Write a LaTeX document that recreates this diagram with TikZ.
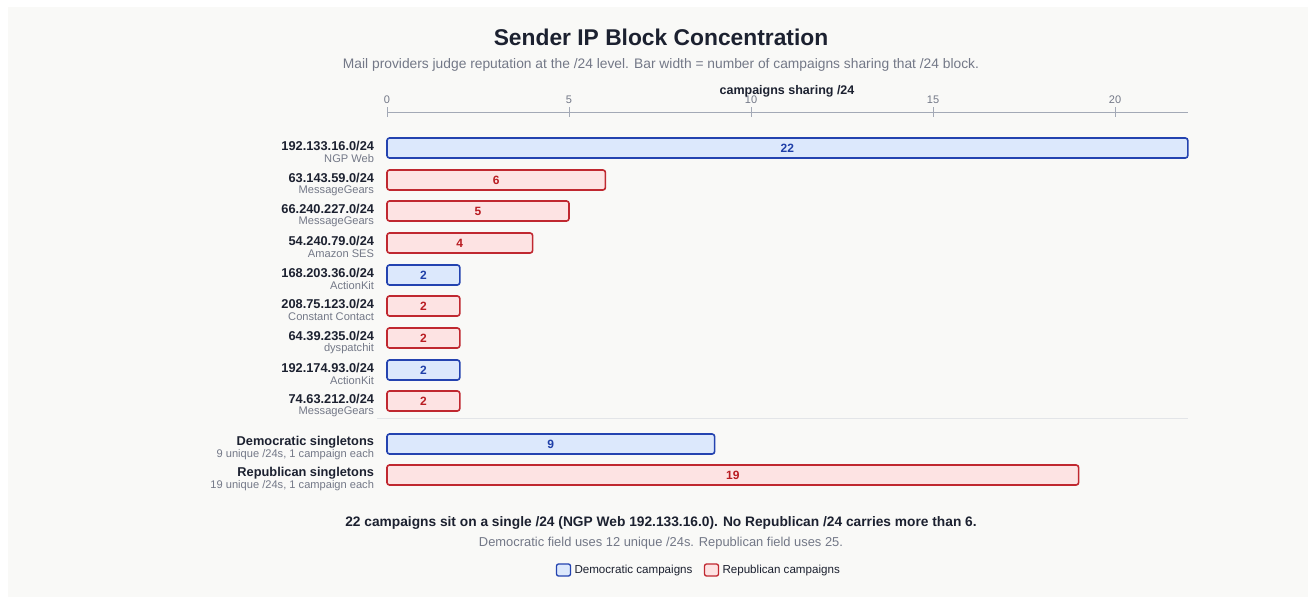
\documentclass[tikz,border=0pt]{standalone}
\usepackage{fontspec}
\setmainfont{Liberation Sans}
\definecolor{panel}{HTML}{F9F9F7}
\definecolor{ink}{HTML}{1C2130}
\definecolor{muted}{HTML}{737887}
\definecolor{axisgray}{HTML}{A3A9B6}
\definecolor{rule}{HTML}{E3E5E8}
\definecolor{demline}{HTML}{2443B0}
\definecolor{demfill}{HTML}{DCE8FC}
\definecolor{demtext}{HTML}{1F3FA8}
\definecolor{repline}{HTML}{C02830}
\definecolor{repfill}{HTML}{FDE3E3}
\definecolor{reptext}{HTML}{B91C22}
\newcommand{\fsz}[1]{\fontsize{#1}{#1}\selectfont}
\tikzset{
    every node/.style={inner sep=0pt, outer sep=0pt},
    bar/.style={rounded corners=2.5pt, line width=1.6pt, minimum height=20pt,
        anchor=west, font=\bfseries\fsz{12}},
    dem bar/.style={bar, draw=demline, fill=demfill, text=demtext},
    rep bar/.style={bar, draw=repline, fill=repfill, text=reptext},
    rowname/.style={anchor=east, text=ink, font=\bfseries\fsz{12.8}},
    rowsub/.style={anchor=east, text=muted, font=\fsz{11.1}},
    tick/.style={text=muted, font=\fsz{11}},
    axis/.style={draw=axisgray, line width=0.9pt},
    key/.style={minimum width=14pt, minimum height=12pt, rounded corners=2pt, line width=1.3pt}
}
\begin{document}
\begin{tikzpicture}[x=1pt,y=-1pt]
    %% canvas
    \useasboundingbox (0,0) rectangle (1308,597);
    \fill[white] (0,0) rectangle (1308,597);
    \fill[panel] (8,7) rectangle (1308,597);
    %% title
    \node[text=ink, font=\bfseries\fsz{22.8}] (title) at (661,37) {Sender IP Block Concentration};
    \node[text=muted, font=\fsz{13.8}] (subtitle) at (661,65)
        {Mail providers judge reputation at the /24 level. Bar width = number of campaigns sharing that /24 block.};
    %% axis
    \coordinate (ax0) at (387,112);
    \coordinate (ax1) at (1188,112);
    \draw[axis] (ax0) -- (ax1);
    \foreach \t in {0,5,10,15,20} {
        \draw[axis] (387+\t*36.4,107) -- +(0,10);
        \node[tick] (t\t) at (387+\t*36.4,100) {\t};
    }
    \node[text=ink, font=\bfseries\fsz{12.5}] (axtitle) at (787,91) {campaigns sharing /24};
    %% shared blocks
    \foreach \y/\ip/\who/\v/\p [count=\i] in {
        148/192.133.16.0/NGP Web/22/dem,
        180/63.143.59.0/MessageGears/6/rep,
        211/66.240.227.0/MessageGears/5/rep,
        243/54.240.79.0/Amazon SES/4/rep,
        275/168.203.36.0/ActionKit/2/dem,
        306/208.75.123.0/Constant Contact/2/rep,
        338/64.39.235.0/dyspatchit/2/rep,
        370/192.174.93.0/ActionKit/2/dem,
        401/74.63.212.0/MessageGears/2/rep} {
        \node[rowname] (name\i) at (374,\y-2) {\ip/24};
        \node[rowsub] (who\i) at (374,\y+10.5) {\who};
        \node[\p\space bar, minimum width=\v*36.4pt] (bar\i) at (387,\y) {\v};
    }
    \coordinate (sep0) at (377,418);
    \coordinate (sep1) at (1188,418);
    \draw[rule, line width=0.8pt] (sep0) -- (sep1);
    %% singletons
    \foreach \y/\what/\n/\p [count=\i] in {
        444/Democratic/9/dem,
        475/Republican/19/rep} {
        \node[rowname] (single\i) at (374,\y-2) {\what\space singletons};
        \node[rowsub] (singlesub\i) at (374,\y+10.5) {\n\space unique /24s, 1 campaign each};
        \node[\p\space bar, minimum width=\n*36.4pt] (singlebar\i) at (387,\y) {\n};
    }
    %% footer
    \node[text=ink, font=\bfseries\fsz{13.75}] (note) at (661,523)
        {22 campaigns sit on a single /24 (NGP Web 192.133.16.0). No Republican /24 carries more than 6.};
    \node[text=muted, font=\fsz{12.9}] (subnote) at (661,543)
        {Democratic field uses 12 unique /24s. Republican field uses 25.};
    %% legend
    \node[key, draw=demline, fill=demfill] (demkey) at (563.5,570) {};
    \node[anchor=west, text=ink, font=\fsz{11.6}] (demname) at ([xshift=4pt]demkey.east) {Democratic campaigns};
    \node[key, draw=repline, fill=repfill] (repkey) at (711.5,570) {};
    \node[anchor=west, text=ink, font=\fsz{11.6}] (repname) at ([xshift=4pt]repkey.east) {Republican campaigns};
\end{tikzpicture}
\end{document}
